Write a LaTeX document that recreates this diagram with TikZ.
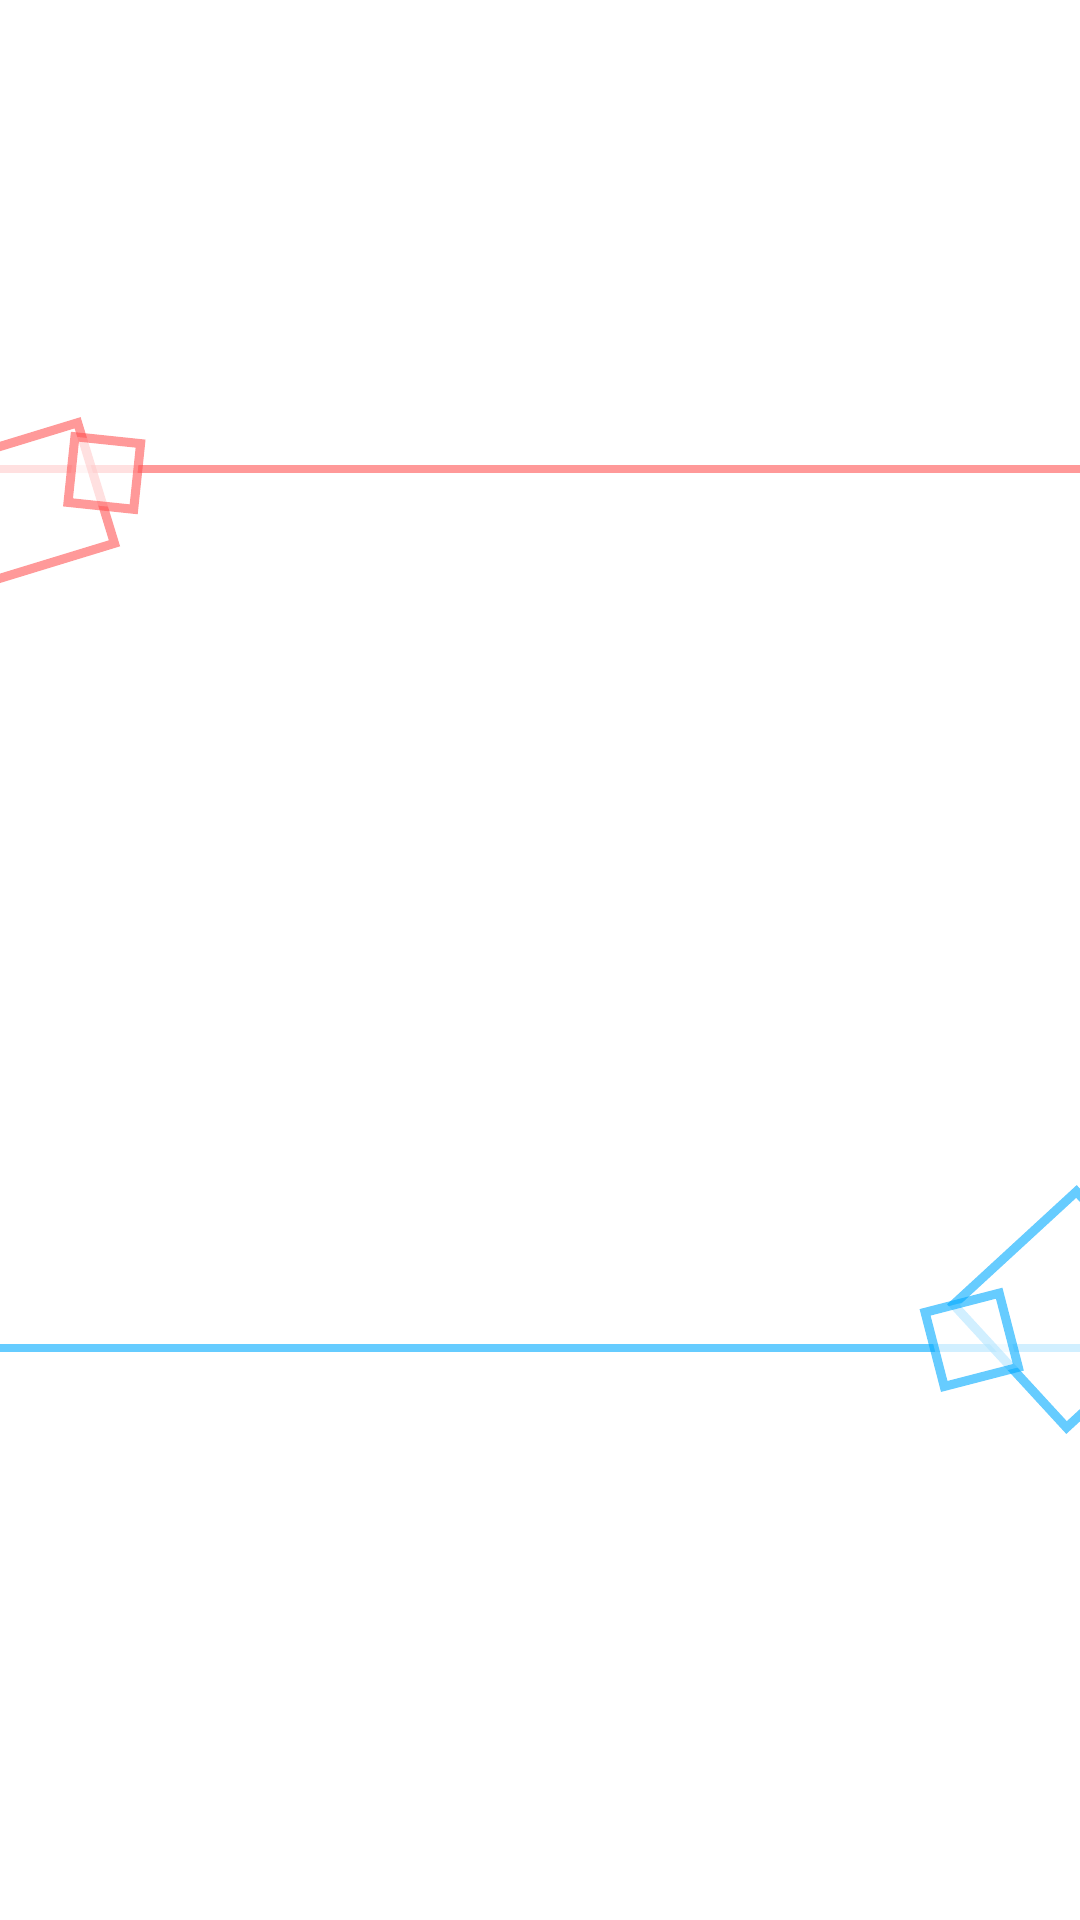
\documentclass[tikz,border=0pt]{standalone}
\definecolor{camred}{RGB}{255,80,80}
\definecolor{camblue}{RGB}{0,170,255}
\begin{document}
\begin{tikzpicture}[x=0.01cm,y=-0.01cm,
    redline/.style={draw=camred,draw opacity=0.58,line width=0.09cm},
    blueline/.style={draw=camblue,draw opacity=0.6,line width=0.09cm},
    axis/.style={line width=0.08cm},
    cover/.style={fill=white,fill opacity=0.7,inner sep=0pt,outer sep=0pt}]
        \path[use as bounding box,fill=white] (0,0) rectangle (1080,1920);
        \clip (0,0) rectangle (1080,1920);
        % red camera
        \coordinate (redleft) at (0,469);
        \coordinate (redright) at (1080,469);
        \draw[redline,axis] (redleft) -- (redright);
        \node[redline,cover,rotate=17,minimum size=1.26cm] (redbody) at (35.75,501.45) {};
        \node[redline,cover,rotate=-6,minimum size=0.66cm] (redlens) at (104.3,473) {};
        % blue camera
        \coordinate (blueleft) at (0,1348);
        \coordinate (blueright) at (1080,1348);
        \draw[blueline,axis] (blueleft) -- (blueright);
        \node[blueline,cover,rotate=42.6,minimum size=1.67cm] (bluebody) at (1071.5,1309.5) {};
        \node[blueline,cover,rotate=14.5,minimum size=0.765cm] (bluelens) at (971.7,1339.8) {};
\end{tikzpicture}
\end{document}
